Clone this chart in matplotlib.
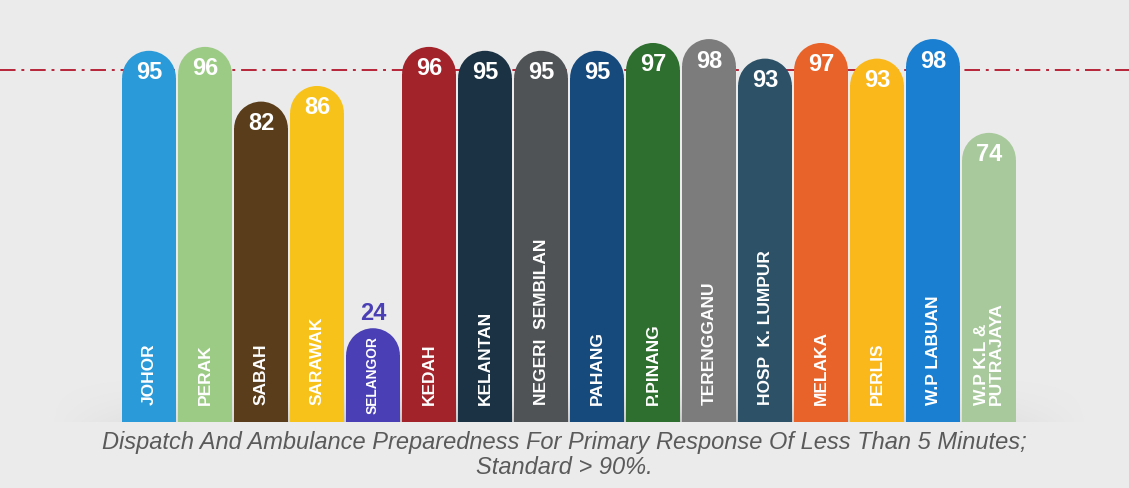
import numpy as np
import matplotlib
matplotlib.use("Agg")
import matplotlib.pyplot as plt
from matplotlib.patches import Ellipse

states = ["JOHOR", "PERAK", "SABAH", "SARAWAK", "SELANGOR", "KEDAH", "KELANTAN",
          "NEGERI  SEMBILAN", "PAHANG", "P.PINANG", "TERENGGANU", "HOSP  K. LUMPUR",
          "MELAKA", "PERLIS", "W.P LABUAN", "W.P K.L &\nPUTRAJAYA"]
values = [95, 96, 82, 86, 24, 96, 95, 95, 95, 97, 98, 93, 97, 93, 98, 74]
colors = ["#2a9ad8", "#9ccb86", "#5a3d1a", "#f7c21a", "#4a3fb5", "#a3232b", "#1b3244",
          "#4f5355", "#174a7c", "#2e6e2e", "#7c7c7c", "#2d5268", "#e8632a", "#fbb81a",
          "#1a7fd0", "#a8c99c"]
standard = 90
caption1 = "Dispatch And Ambulance Preparedness For Primary Response Of Less Than 5 Minutes;"
caption2 = "Standard > 90%."

W, H = 1129, 488
fig = plt.figure(figsize=(W / 100, H / 100), dpi=100)
fig.patch.set_facecolor("#ebebeb")

base_px = 422
ax = fig.add_axes([0, (H - base_px) / H, 1, base_px / H])
ax.set_facecolor("none")
slot = 56.0
x0 = -0.5 - 121 / slot
ax.set_xlim(x0, x0 + W / slot)
ax.set_ylim(0, 108)
ax.axis("off")

x = np.arange(len(values))
vals = np.array(values, dtype=float)
bw = 0.96

# radius in pixels -> y data units
y_per_px = 108 / base_px
r_px = bw * slot / 2
ry = r_px * y_per_px

# soft shadow behind the bar bases (fades upward and to the sides)
gh = 14
gy = np.linspace(0, 1, 80)[:, None]
gx = np.linspace(-1, 1, 400)[None, :]
alpha = 0.30 * gy ** 2 * np.clip(1.5 - np.abs(gx) * 1.5, 0, 1)
img = np.zeros((80, 400, 4))
img[..., :3] = 0.45
img[..., 3] = alpha
ax.imshow(img, extent=(-1.8, 16.8, 0, gh), aspect="auto", zorder=0)

ax.bar(x, vals - ry, width=bw, color=colors, zorder=2, linewidth=0)
for xi, v, c in zip(x, vals, colors):
    ax.add_patch(Ellipse((xi, v - ry), bw, 2 * ry, facecolor=c, edgecolor="none", zorder=2))

ax.axhline(standard, color="#b8243a", lw=1.4, ls=(0, (8, 3, 1.5, 3)), zorder=1.5)

renderer = fig.canvas.get_renderer()
for xi, v, name, c in zip(x, vals, states, colors):
    short = v < 40
    if short:
        # short bar: number sits just above the rounded top
        ax.text(xi, v + 3 * y_per_px, f"{int(v)}", ha="center", va="bottom", color=c,
                fontsize=17, fontweight="bold", family="Liberation Sans", zorder=3)
    else:
        ax.text(xi, v - 22 * y_per_px, f"{int(v)}", ha="center", va="center", color="white",
                fontsize=17, fontweight="bold", family="Liberation Sans", zorder=3)
    pad = 8 if short else 17
    t = ax.text(xi, pad * y_per_px, name, rotation=90, ha="center", va="bottom",
                multialignment="left", color="white", fontsize=12.5, fontweight="bold",
                family="Liberation Sans", linespacing=1.0, zorder=3)
    # shrink the name if it would run out of the bar
    room = v / y_per_px - pad - 8
    hgt = t.get_window_extent(renderer).height
    if hgt > room:
        t.set_fontsize(12.5 * room / hgt)

fig.text(0.5, 1 - 443 / H, caption1, ha="center", va="center", fontsize=17,
         style="italic", color="#5a5a5a", family="Liberation Sans")
fig.text(0.5, 1 - 467 / H, caption2, ha="center", va="center", fontsize=17,
         style="italic", color="#5a5a5a", family="Liberation Sans")

fig.savefig("out.png", dpi=100, facecolor=fig.get_facecolor())
